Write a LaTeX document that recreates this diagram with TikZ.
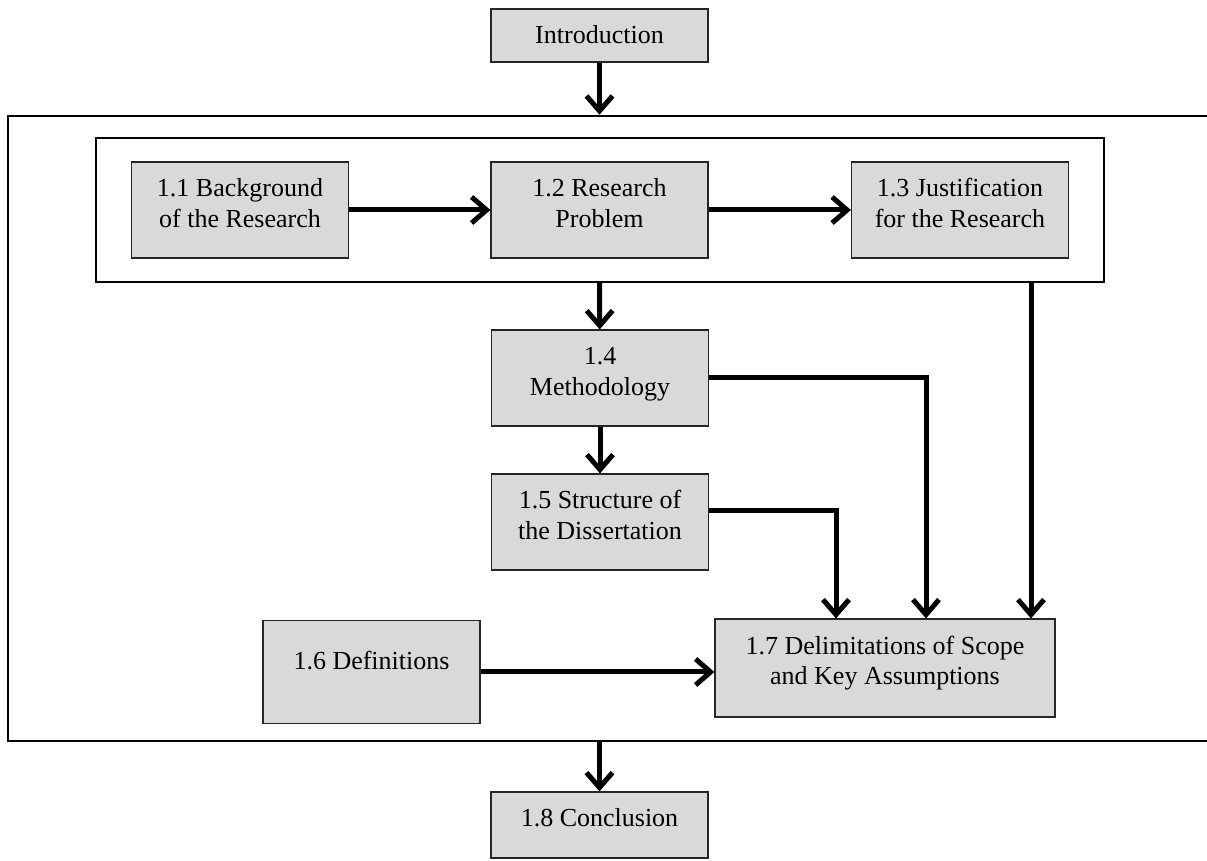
\documentclass[tikz,border=0pt]{standalone}
\usepackage{fontspec}
\setmainfont{Liberation Serif}
\usetikzlibrary{arrows.meta}
% first-line height and last-line depth fix where the text sits in its box
\newcommand\boxtext[2]{\rule{0pt}{12pt}#2\rule[-#1pt]{0pt}{0pt}}
\begin{document}
\begin{tikzpicture}[x=0.5pt,y=-0.5pt,
  stepbox/.style={draw=black!85, line width=0.6pt, fill=black!15, inner sep=0pt,
    minimum width=108.5pt, minimum height=48pt, align=center,
    font=\fontsize{13pt}{15.5pt}\selectfont},
  framebox/.style={draw=black, inner sep=0pt},
  arr/.style={line width=2.5pt, -{Straight Barb[length=7.5pt,width=13pt]}}]
\useasboundingbox (0,0) rectangle (1207,861);

% containers
\node[framebox, line width=1.25pt, minimum width=602pt, minimum height=312.5pt] (outer) at (610,428.5) {};
\node[framebox, line width=0.7pt, minimum width=504pt, minimum height=72pt] (inner) at (600,210) {};

% sections
\node[stepbox, minimum height=26.5pt] (intro) at (599.5,35.5) {\boxtext{3.5}{Introduction}};
\node[stepbox] (n11) at (240,210) {\boxtext{9.5}{1.1 Background\\of the Research}};
\node[stepbox] (n12) at (599.5,210) {\boxtext{9.5}{1.2 Research\\Problem}};
\node[stepbox] (n13) at (960,210) {\boxtext{9.5}{1.3 Justification\\for the Research}};
\node[stepbox] (n14) at (600,378) {\boxtext{9.5}{1.4\\Methodology}};
\node[stepbox] (n15) at (600,522) {\boxtext{9.5}{1.5 Structure of\\the Dissertation}};
\node[stepbox, minimum height=51.5pt] (n16) at (371.5,672) {\boxtext{14.5}{1.6 Definitions}};
\node[stepbox, minimum width=170pt, minimum height=49pt] (n17) at (885,668) {\boxtext{10.5}{1.7 Delimitations of Scope\\and Key Assumptions}};
\node[stepbox, minimum height=33pt] (n18) at (599.5,825) {\boxtext{10}{1.8 Conclusion}};

% connectors
\draw[arr] (intro) -- (intro.south |- outer.north);
\draw[arr] (n11) -- (n12);
\draw[arr] (n12) -- (n13);
\draw[arr] (n12.south |- inner.south) -- (n14);
\draw[arr] (n14) -- (n15);
\draw[arr] (n14.east) -| ([xshift=20.5pt]n17.north);
\draw[arr] ([yshift=5.5pt]n15.east) -| ([xshift=-24.5pt]n17.north);
\draw[arr] ([xshift=73pt]n17.north |- inner.south) -- ([xshift=73pt]n17.north);
\draw[arr] (n16.east) -- (n16.east -| n17.west);
\draw[arr] (n18.north |- outer.south) -- (n18);
\end{tikzpicture}
\end{document}
